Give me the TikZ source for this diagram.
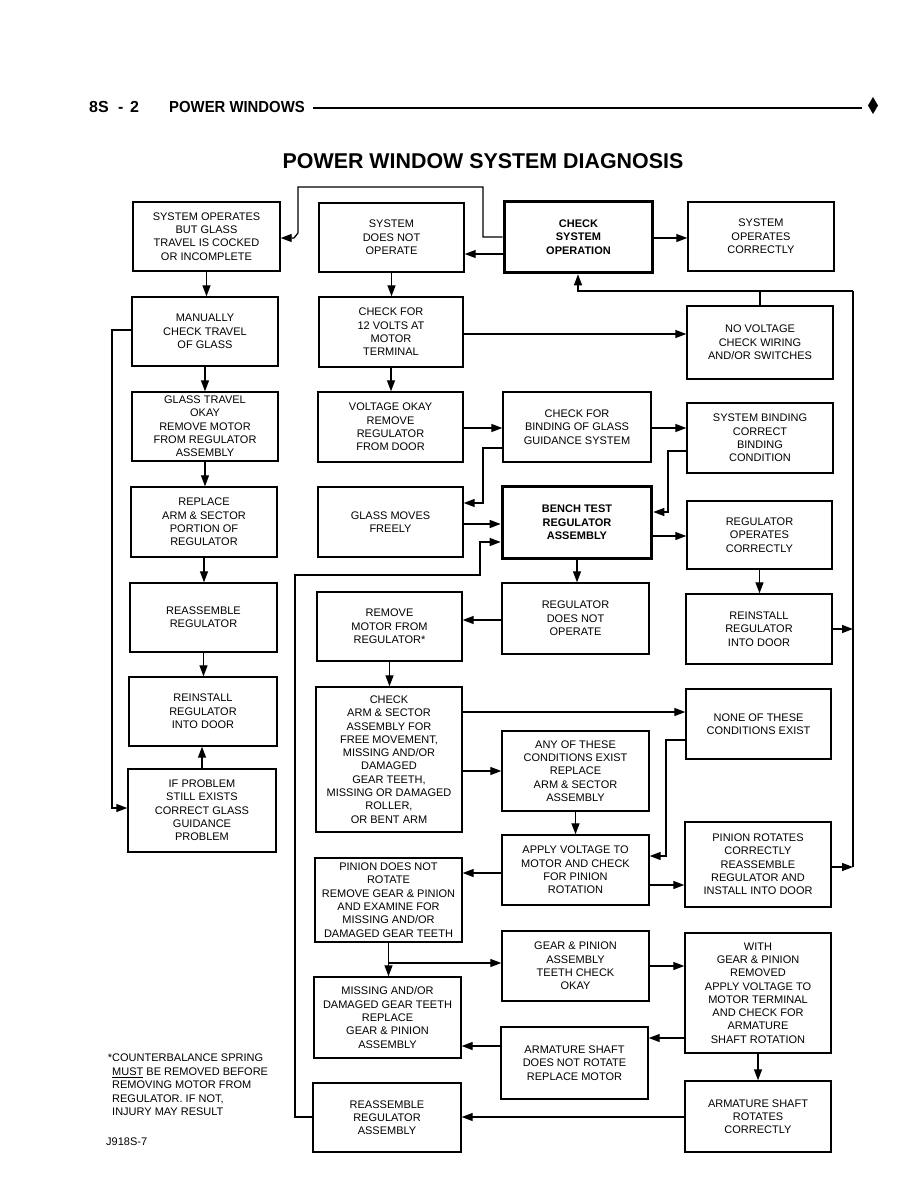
\documentclass[tikz,border=0pt]{standalone}
\usepackage{fontspec}
\setmainfont{Liberation Sans}
\usetikzlibrary{arrows.meta}
\newcommand{\pwbox}[7][box]{\node[#1,minimum width={#5-#3},minimum height={#6-#4}] (#2) at ({(#3+#5)/2},{(#4+#6)/2}) {#7};}
\begin{document}
\begin{tikzpicture}[x=1pt,y=-1pt,
  box/.style={draw,line width=1.4pt,align=center,inner sep=1pt,font=\fontsize{11}{13.3}\selectfont},
  tbox/.style={box,line width=3.6pt,font=\fontsize{11}{13.3}\selectfont\bfseries},
  arr/.style={line width=1.3pt,-{Triangle[length=11pt,width=8pt]}},
  ln/.style={line width=1.3pt},
  plain/.style={inner sep=0pt,font=\fontsize{11}{13.4}\selectfont}]
\useasboundingbox[fill=white] (0,0) rectangle (918,1188);

% header
\node[anchor=base west,inner sep=0pt,font=\fontsize{16}{18}\selectfont\bfseries] (h1) at (89,113) {8S};
\node[anchor=base west,inner sep=0pt,font=\fontsize{16}{18}\selectfont\bfseries] (h2) at (118,113) {-};
\node[anchor=base west,inner sep=0pt,font=\fontsize{16}{18}\selectfont\bfseries] (h3) at (130,113) {2};
\node[anchor=base west,inner sep=0pt,font=\fontsize{16}{18}\selectfont\bfseries] (h4) at (169,113) {\scalebox{0.93}[1]{POWER WINDOWS}};
\coordinate (hl1) at (313,108);
\coordinate (hl2) at (862,108);
\draw[line width=1.2pt] (hl1) -- (hl2);
\fill (873,97) -- (878,105.5) -- (873,114) -- (868,105.5) -- cycle;

% title
\node[anchor=base,inner sep=0pt,font=\fontsize{21.4}{24}\selectfont\bfseries] (title) at (483,168) {POWER WINDOW SYSTEM DIAGNOSIS};

% column 1
\pwbox{b1}{133}{202}{280}{271}{SYSTEM OPERATES\\BUT GLASS\\TRAVEL IS COCKED\\OR INCOMPLETE}
\pwbox{b2}{132}{297}{278}{366}{MANUALLY\\CHECK TRAVEL\\OF GLASS}
\pwbox{b3}{132}{392}{278}{461}{GLASS TRAVEL\\OKAY\\REMOVE MOTOR\\FROM REGULATOR\\ASSEMBLY}
\pwbox{b4}{131}{487}{277}{557}{REPLACE\\ARM \& SECTOR\\PORTION OF\\REGULATOR}
\pwbox{b5}{130}{583}{277}{652}{REASSEMBLE\\REGULATOR}
\pwbox{b6}{129}{677}{277}{746}{REINSTALL\\REGULATOR\\INTO DOOR}
\pwbox{b7}{128}{769}{276}{852}{IF PROBLEM\\STILL EXISTS\\CORRECT GLASS\\GUIDANCE\\PROBLEM}

% column 2
\pwbox{c1}{319}{203}{464}{272}{SYSTEM\\DOES NOT\\OPERATE}
\pwbox{c2}{319}{297}{463}{367}{CHECK FOR\\12 VOLTS AT\\MOTOR\\TERMINAL}
\pwbox{c3}{318}{392}{463}{462}{VOLTAGE OKAY\\REMOVE\\REGULATOR\\FROM DOOR}
\pwbox{c4}{318}{487}{463}{557}{GLASS MOVES\\FREELY}
\pwbox{c5}{317}{592}{462}{661}{REMOVE\\MOTOR FROM\\REGULATOR*}
\pwbox{c6}{316}{687}{462}{832}{CHECK\\ARM \& SECTOR\\ASSEMBLY FOR\\FREE MOVEMENT,\\MISSING AND/OR\\DAMAGED\\GEAR TEETH,\\MISSING OR DAMAGED\\ROLLER,\\OR BENT ARM}
\pwbox{c7}{315}{858}{462}{942}{PINION DOES NOT\\ROTATE\\REMOVE GEAR \& PINION\\AND EXAMINE FOR\\MISSING AND/OR\\DAMAGED GEAR TEETH}
\pwbox{c8}{314}{977}{461}{1058}{MISSING AND/OR\\DAMAGED GEAR TEETH\\REPLACE\\GEAR \& PINION\\ASSEMBLY}
\pwbox{c9}{313}{1083}{461}{1152}{REASSEMBLE\\REGULATOR\\ASSEMBLY}

% column 3
\pwbox[tbox]{d1}{504.5}{201.5}{652.5}{272.5}{CHECK\\SYSTEM\\OPERATION}
\pwbox{d2}{503}{392}{651}{462}{CHECK FOR\\BINDING OF GLASS\\GUIDANCE SYSTEM}
\pwbox[tbox]{d3}{502.5}{486.5}{651.5}{558.5}{BENCH TEST\\REGULATOR\\ASSEMBLY}
\pwbox{d4}{502}{583}{649}{654}{REGULATOR\\DOES NOT\\OPERATE}
\pwbox{d5}{502}{731}{649}{811}{ANY OF THESE\\CONDITIONS EXIST\\REPLACE\\ARM \& SECTOR\\ASSEMBLY}
\pwbox{d6}{502}{835}{649}{905}{APPLY VOLTAGE TO\\MOTOR AND CHECK\\FOR PINION\\ROTATION}
\pwbox{d7}{502}{931}{649}{1001}{GEAR \& PINION\\ASSEMBLY\\TEETH CHECK\\OKAY}
\pwbox{d8}{501}{1027}{648}{1099}{ARMATURE SHAFT\\DOES NOT ROTATE\\REPLACE MOTOR}

% column 4
\pwbox{e1}{688}{202}{834}{271}{SYSTEM\\OPERATES\\CORRECTLY}
\pwbox{e2}{687}{306}{833}{379}{NO VOLTAGE\\CHECK WIRING\\AND/OR SWITCHES}
\pwbox{e3}{687}{403}{833}{473}{SYSTEM BINDING\\CORRECT\\BINDING\\CONDITION}
\pwbox{e4}{687}{501}{832}{569}{REGULATOR\\OPERATES\\CORRECTLY}
\pwbox{e5}{686}{594}{832}{664}{REINSTALL\\REGULATOR\\INTO DOOR}
\pwbox{e6}{686}{689}{831}{759}{NONE OF THESE\\CONDITIONS EXIST}
\pwbox{e7}{685}{822}{831}{907}{PINION ROTATES\\CORRECTLY\\REASSEMBLE\\REGULATOR AND\\INSTALL INTO DOOR}
\pwbox{e8}{685}{933}{831}{1053}{WITH\\GEAR \& PINION\\REMOVED\\APPLY VOLTAGE TO\\MOTOR TERMINAL\\AND CHECK FOR\\ARMATURE\\SHAFT ROTATION}
\pwbox{e9}{685}{1081}{831}{1152}{ARMATURE SHAFT\\ROTATES\\CORRECTLY}

% footnote
\node[plain,anchor=north west,align=left] (fn) at (112,1054) {\llap{*}COUNTERBALANCE SPRING\\\underline{MUST} BE REMOVED BEFORE\\REMOVING MOTOR FROM\\REGULATOR. IF NOT,\\INJURY MAY RESULT};
\node[plain,anchor=base west] (fig) at (106,1145) {J918S-7};

% ---- connectors ----
% left column
\draw[arr] (b1.south) -- (b1.south |- b2.north);
\draw[arr] (b2.south) -- (b2.south |- b3.north);
\draw[arr] (b3.south) -- (b3.south |- b4.north);
\draw[arr] (b4.south) -- (b4.south |- b5.north);
\draw[arr] (b5.south) -- (b5.south |- b6.north);
\draw[arr] (b7.north) -- (b7.north |- b6.south);
\draw[arr] (b2.west |- 0,330) -- (112,330) -- (112,808) -- (b7.west |- 0,808);

% top
\draw[arr] (d1.east |- 0,238) -- (e1.west |- 0,238);
\draw[arr] (d1.west |- 0,254) -- (c1.east |- 0,254);
\draw[arr] (d1.west |- 0,237) -- (483,237) -- (483,187) -- (298,187) -- (298,233) -- (294,238) -- (b1.east |- 0,238);

% column 2
\draw[arr] (c1.south) -- (c1.south |- c2.north);
\draw[arr] (c2.east |- 0,334) -- (e2.west |- 0,334);
\draw[arr] (c2.south) -- (c2.south |- c3.north);
\draw[arr] (c3.east |- 0,428) -- (d2.west |- 0,428);
\draw[arr] (d2.east |- 0,428) -- (e3.west |- 0,428);
\draw[arr] (d2.west |- 0,448) -- (483,448) -- (483,503) -- (c4.east |- 0,503);
\draw[arr] (c4.east |- 0,524) -- (d3.west |- 0,524);
\draw[arr] (e3.west |- 0,451) -- (668,451) -- (668,512) -- (d3.east |- 0,512);
\draw[arr] (d3.east |- 0,536) -- (e4.west |- 0,536);
\draw[arr] (d3.south -| 577,0) -- (577,0 |- d4.north);
\draw[arr] (e4.south) -- (e4.south |- e5.north);
\draw[arr] (d4.west |- 0,620) -- (c5.east |- 0,620);
\draw[arr] (c5.south) -- (c5.south |- c6.north);
\draw[arr] (c6.east |- 0,712) -- (e6.west |- 0,712);
\draw[arr] (c6.east |- 0,771) -- (d5.west |- 0,771);
\draw[arr] (d5.south) -- (d5.south |- d6.north);
\draw[arr] (e6.west |- 0,740) -- (666,740) -- (666,856) -- (d6.east |- 0,856);
\draw[arr] (d6.east |- 0,885) -- (e7.west |- 0,885);
\draw[arr] (d6.west |- 0,873) -- (c7.east |- 0,873);
\draw[arr] (c7.south) -- (c7.south |- c8.north);
\coordinate (br) at (c7.south |- 0,963);
\draw[arr] (br) -- (d7.west |- br);
\draw[arr] (d7.east |- 0,966) -- (e8.west |- 0,966);
\draw[arr] (e8.west |- 0,1038) -- (d8.east |- 0,1038);
\draw[arr] (d8.west |- 0,1046) -- (c8.east |- 0,1046);
\draw[arr] (e8.south) -- (e8.south |- e9.north);
\draw[arr] (e9.west |- 0,1117) -- (c9.east |- 0,1117);
\draw[arr] (c9.west |- 0,1117) -- (295,1117) -- (295,575) -- (480,575) -- (480,542) -- (d3.west |- 0,542);

% right loop back to check system operation
\coordinate (rl1) at (853,291);
\coordinate (rl2) at (853,867);
\draw[ln] (rl2) -- (rl1);
\draw[ln] (e2.north) -- (e2.north |- rl1);
\draw[arr] (rl1) -- (578,291) -- (578,0 |- d1.south);
\draw[arr] (e5.east |- 0,629) -- (rl1 |- 0,629);
\draw[arr] (e7.east |- 0,867) -- (rl2);
\end{tikzpicture}
\end{document}
